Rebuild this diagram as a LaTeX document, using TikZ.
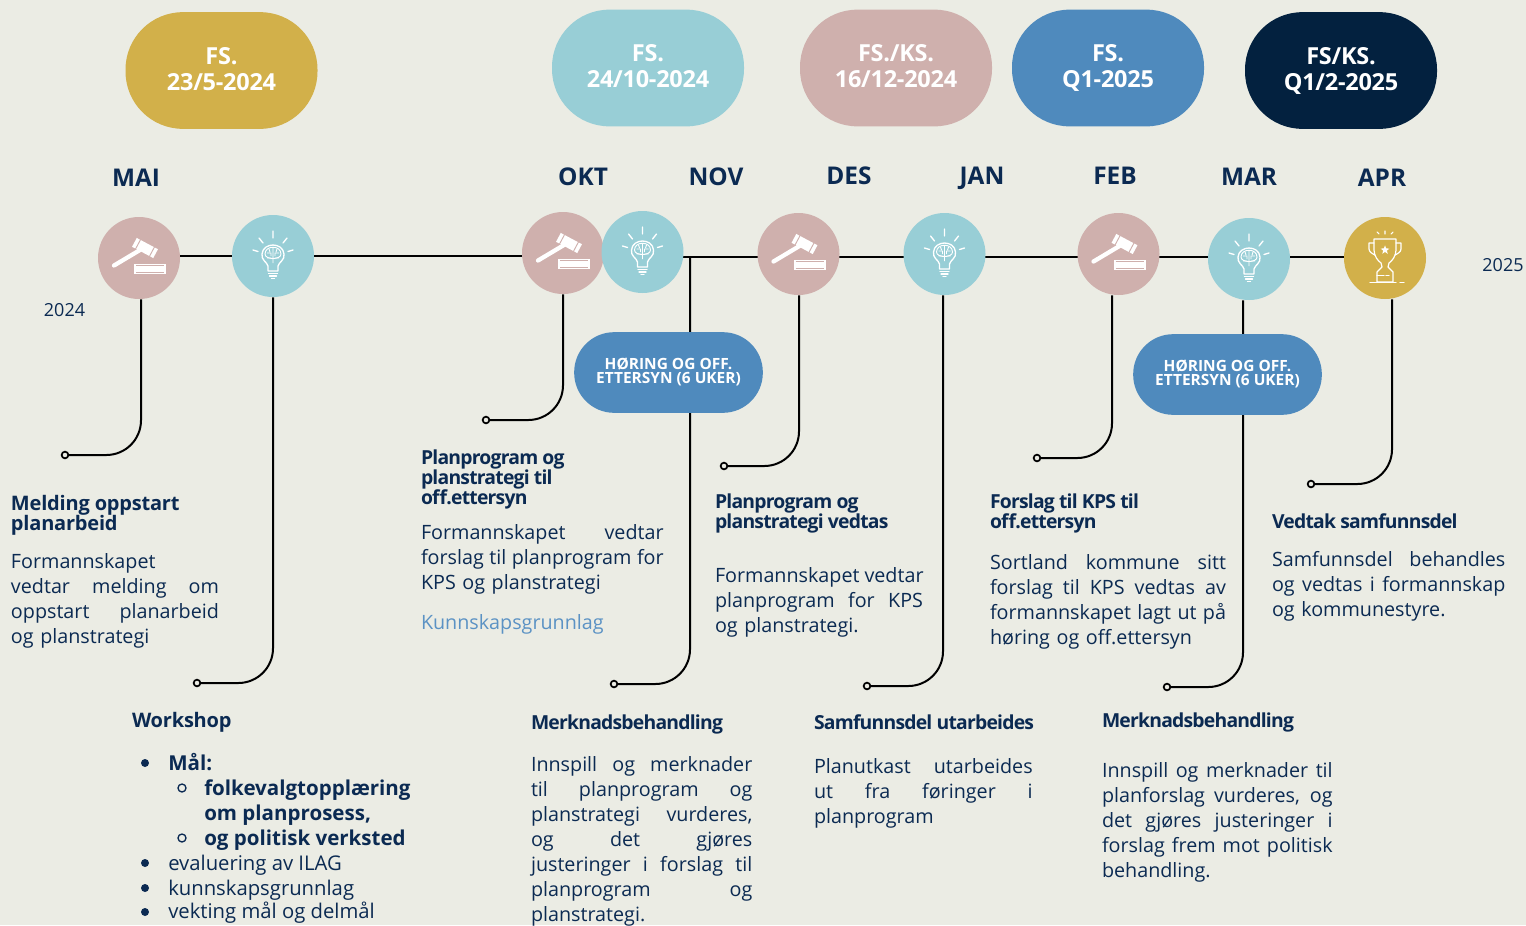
\documentclass[tikz,border=0pt]{standalone}
\usepackage{fontspec}
\setmainfont{Open Sans}
\usetikzlibrary{backgrounds,shapes.geometric,calc}
\definecolor{bgc}{HTML}{EBECE4}
\definecolor{navy}{HTML}{0B2A52}
\definecolor{goldc}{HTML}{D2B04A}
\definecolor{tealc}{HTML}{98CED6}
\definecolor{rosec}{HTML}{CFB0AD}
\definecolor{bluec}{HTML}{4F8ABD}
\definecolor{darkc}{HTML}{03213F}
\definecolor{linkc}{HTML}{5B92C4}
\newcommand\jl[1]{\leavevmode\hbox to\hsize{\spaceskip=.25em plus 1fil\relax #1}}
\tikzset{
 x=0.75pt,y=-0.75pt,
 pill/.style={rounded corners=43pt,minimum width=144pt,minimum height=87.5pt,inner sep=0pt,text=white,align=center,text depth=3pt,
   font=\fontsize{17.6pt}{19.5pt}\selectfont\bfseries\addfontfeature{LetterSpace=-1}},
 hpill/.style={rounded corners=30pt,fill=bluec,minimum width=141.5pt,minimum height=60.5pt,inner sep=0pt,text=white,align=center,text depth=3pt,
   font=\fontsize{11.6pt}{10.5pt}\selectfont\bfseries},
 month/.style={text=navy,font=\fontsize{18.3pt}{22pt}\selectfont\bfseries,inner sep=0pt,text height=13.5pt,text depth=0pt},
 yr/.style={text=navy,font=\fontsize{13.5pt}{16pt}\selectfont,inner sep=0pt},
 disc/.style={circle,minimum size=61.5pt,inner sep=0pt},
 head/.style={text=navy,anchor=north west,inner sep=0pt,align=left,xshift=-.2pt,yshift=-1.5pt,font=\fontsize{14.5pt}{15pt}\selectfont\bfseries\addfontfeature{LetterSpace=-4}},
 widehead/.style={head,font=\fontsize{15pt}{15pt}\selectfont\bfseries\addfontfeature{LetterSpace=-1}},
 body/.style={text=navy,anchor=north west,inner sep=0pt,align=left,xshift=-.2pt,yshift=-3pt,font=\fontsize{14.8pt}{18.75pt}\selectfont},
 item/.style={text=navy,anchor=west,inner sep=0pt,yshift=-1.5pt,text height=11pt,text depth=3pt,font=\fontsize{15.2pt}{18pt}\selectfont},
 bitem/.style={item,font=\fontsize{15.4pt}{18pt}\selectfont\bfseries},
 conn/.style={draw=black,line width=1.5pt,rounded corners=26pt},
 tline/.style={draw=black,line width=1.8pt},
 enddot/.style={circle,draw=black,line width=1.3pt,fill=bgc,minimum size=5pt,inner sep=0pt},
 bul/.style={circle,fill=navy,minimum size=6pt,inner sep=0pt},
 subbul/.style={circle,draw=navy,line width=1pt,minimum size=6pt,inner sep=0pt},
 ico/.style={draw=white,line width=1pt,line cap=round,line join=round},
 gavel/.pic={
   \draw[white,line width=3.2pt,line cap=round] (-25,7.5) -- (1,-8);
   \fill[white,rotate around={-28:(6,-10)}] (-6,-15) rectangle (18,-5);
   \foreach \k in {-7.5,7.5}{\draw[rosec,line width=.7pt,rotate around={-28:(6,-10)}] (6+\k*1.05,-15.5) -- (6+\k*1.05,-4.5);}
   \fill[white] (-5,6) rectangle (27,16);
   \draw[rosec,line width=.6pt] (-3,7.4) -- (25,7.4) (-3,14.6) -- (25,14.6);
 },
 bulb/.pic={
   \draw[ico] (0,-25) -- (0,-18) (-14,-18) -- (-10,-13) (14,-18) -- (10,-13) (-20,-6) -- (-15,-4.5) (20,-6) -- (15,-4.5);
   \draw[ico] (-5,10) .. controls (-6,6) and (-12,4) .. (-11,-2) .. controls (-10,-14) and (10,-14) .. (11,-2) .. controls (12,4) and (6,6) .. (5,10) -- (5,15) -- (-5,15) -- cycle;
   \draw[white,line width=.7pt] (-8,-2) .. controls (-8,-11) and (8,-11) .. (8,-2) .. controls (8,4) and (-8,4) .. (-8,-2);
   \draw[white,line width=.7pt] (0,-8) -- (0,7) (-6,-3) -- (-2,-3) -- (-2,0) (6,-3) -- (2,-3) -- (2,0) (-4,-7) -- (-3,-4) (4,-7) -- (3,-4) (-6,2) -- (-2,2) (6,2) -- (2,2);
   \draw[ico] (-4.5,17.5) -- (4.5,17.5) (-3.5,20) -- (3.5,20) (-1.5,22.5) -- (1.5,22.5);
 },
 trophy/.pic={
   \draw[ico,line width=.8pt] (0,-27) -- (0,-24) (-8,-26) -- (-6,-24) (8,-26) -- (6,-24);
   \draw[ico,line width=.9pt] (-11,-19) -- (11,-19) -- (11,-8) .. controls (11,-2) and (7,3) .. (4,5) -- (3,9) -- (8,14) -- (8,24) -- (-8,24) -- (-8,14) -- (-3,9) -- (-4,5) .. controls (-7,3) and (-11,-2) .. (-11,-8) -- cycle;
   \draw[ico,line width=.9pt] (-11,-15) -- (-16,-15) -- (-16,-9) .. controls (-16,-6) and (-12,-4) .. (-10,-3);
   \draw[ico,line width=.9pt] (11,-15) -- (16,-15) -- (16,-9) .. controls (16,-6) and (12,-4) .. (10,-3);
   \draw[ico,line width=.9pt] (-15,24.3) -- (11,24.3) (15,24.3) -- (19,24.3) (-8,17.5) -- (-1,17.5) (1,17.5) -- (4,17.5);
   \node[star,star points=5,star point ratio=2.4,fill=white,minimum size=7pt,inner sep=0pt] at (0,-8) {};
 },
}
\begin{document}
\begin{tikzpicture}
\useasboundingbox (0,0) rectangle (1526,925);
\begin{scope}[on background layer]
\fill[bgc] (0,0) rectangle (1526,925);
\end{scope}
% pills
\node[pill,fill=goldc] (p1) at (221.5,70.5) {FS.\\23/5-2024};
\node[pill,fill=tealc] (p2) at (648,68) {FS.\\24/10-2024};
\node[pill,fill=rosec] (p3) at (896,68) {FS./KS.\\16/12-2024};
\node[pill,fill=bluec] (p4) at (1108,68) {FS.\\Q1-2025};
\node[pill,fill=darkc] (p5) at (1341,70.5) {FS/KS.\\Q1/2-2025};
% months
\node[month] (m1) at (136,177) {MAI};
\node[month] (m2) at (583,176) {OKT};
\node[month] (m3) at (716,176) {NOV};
\node[month] (m4) at (849,175) {DES};
\node[month] (m5) at (982,175) {JAN};
\node[month] (m6) at (1115,175) {FEB};
\node[month] (m7) at (1249,176) {MAR};
\node[month] (m8) at (1382,177) {APR};
\node[yr] (y1) at (64.5,310) {2024};
\node[yr] (y2) at (1503,265) {2025};
% timeline discs
\node[disc,fill=rosec] (n1) at (139,258) {};
\node[disc,fill=tealc] (n2) at (273,256) {};
\node[disc,fill=rosec] (n3) at (563,253) {};
\node[disc,fill=tealc] (n4) at (642.5,252) {};
\node[disc,fill=rosec] (n5) at (798.5,254) {};
\node[disc,fill=tealc] (n6) at (944.5,254) {};
\node[disc,fill=rosec] (n7) at (1118.5,254) {};
\node[disc,fill=tealc] (n8) at (1249,259) {};
\node[disc,fill=goldc] (n9) at (1385,258) {};
\pic at (n1) {gavel};
\pic at (n2) {bulb};
\pic at (n3) {gavel};
\pic at (n4) {bulb};
\pic at (n5) {gavel};
\pic at (n6) {bulb};
\pic at (n7) {gavel};
\pic at (n8) {bulb};
\pic at (n9) {trophy};
% hearing pills
\node[hpill] (h1) at (668.5,372.5) {HØRING OG OFF.\\ETTERSYN (6 UKER)};
\node[hpill] (h2) at (1227.5,374.5) {HØRING OG OFF.\\ETTERSYN (6 UKER)};
% connector ends
\coordinate (t1) at (0,256);
\coordinate (t2) at (0,257);
\coordinate (c1) at (141,455);
\coordinate (c2) at (273,683);
\coordinate (c3) at (563,420);
\coordinate (c4) at (690,684);
\coordinate (c5) at (799,466);
\coordinate (c6) at (943,686);
\coordinate (c7) at (1112,458);
\coordinate (c8) at (1243,687);
\coordinate (c9) at (1392,484);
\node[enddot] (d1) at (65,455) {};
\node[enddot] (d2) at (197,683) {};
\node[enddot] (d3) at (486,420) {};
\node[enddot] (d4) at (614,684) {};
\node[enddot] (d5) at (724,466) {};
\node[enddot] (d6) at (867,686) {};
\node[enddot] (d7) at (1037,458) {};
\node[enddot] (d8) at (1167,687) {};
\node[enddot] (d9) at (1311,484) {};
\begin{scope}[on background layer]
\draw[tline] (n1 |- t1) -- (n2 |- t1);
\draw[tline] (n2 |- t1) -- (n3 |- t1);
\draw[tline] (n4 |- t2) -- (n5 |- t2);
\draw[tline] (n5 |- t2) -- (n6 |- t2);
\draw[tline] (n6 |- t2) -- (n7 |- t2);
\draw[tline] (n7 |- t2) -- (n8 |- t2);
\draw[tline] (n8 |- t2) -- (n9 |- t2);
\draw[conn] (c1 |- n1.south) -- (c1) -- (d1);
\draw[conn] (c2 |- n2.south) -- (c2) -- (d2);
\draw[conn] (c3 |- n3.south) -- (c3) -- (d3);
\draw[conn] (c4 |- t2) -- (c4) -- (d4);
\draw[conn] (c5 |- n5.south) -- (c5) -- (d5);
\draw[conn] (c6 |- n6.south) -- (c6) -- (d6);
\draw[conn] (c7 |- n7.south) -- (c7) -- (d7);
\draw[conn] (c8 |- n8.south) -- (c8) -- (d8);
\draw[conn] (c9 |- n9.south) -- (c9) -- (d9);
\end{scope}
% text blocks
\node[widehead] (a1) at (11,493) {Melding oppstart\\planarbeid};
\node[body,text width=156pt] (b1) at (11,549) {Formannskapet\\\jl{vedtar melding om}\\\jl{oppstart planarbeid}\\og planstrategi};
\node[head] (a2) at (421,448) {Planprogram og\\planstrategi til\\off.ettersyn};
\node[body,text width=182pt] (b2) at (421,520) {\jl{Formannskapet vedtar}\\\jl{forslag til planprogram for}\\KPS og planstrategi};
\node[body,text=linkc] (b2b) at (421,610) {Kunnskapsgrunnlag};
\node[head] (a3) at (715,492) {Planprogram og\\planstrategi vedtas};
\node[body,text width=156pt] (b3) at (715,563) {\jl{Formannskapet vedtar}\\\jl{planprogram for KPS}\\og planstrategi.};
\node[head] (a4) at (990,492) {Forslag til KPS til\\off.ettersyn};
\node[body,text width=177pt] (b4) at (990,550) {\jl{Sortland kommune sitt}\\\jl{forslag til KPS vedtas av}\\\jl{formannskapet lagt ut på}\\høring og off.ettersyn};
\node[head] (a5) at (1272,511) {Vedtak samfunnsdel};
\node[body,text width=175pt] (b5) at (1272,547) {\jl{Samfunnsdel behandles}\\\jl{og vedtas i formannskap}\\og kommunestyre.};
\node[head] (a6) at (531,713) {Merknadsbehandling};
\node[body,text width=166pt] (b6) at (531,752.5) {\jl{Innspill og merknader}\\\jl{til planprogram og}\\\jl{planstrategi vurderes,}\\\jl{og det gjøres}\\\jl{justeringer i forslag til}\\\jl{planprogram og}\\planstrategi.};
\node[head] (a7) at (814,712) {Samfunnsdel utarbeides};
\node[body,text width=164pt] (b7) at (814,754) {\jl{Planutkast utarbeides}\\\jl{ut fra føringer i}\\planprogram};
\node[head] (a8) at (1102,711) {Merknadsbehandling};
\node[body,text width=173pt] (b8) at (1102,758) {\jl{Innspill og merknader til}\\\jl{planforslag vurderes, og}\\\jl{det gjøres justeringer i}\\\jl{forslag frem mot politisk}\\behandling.};
% workshop
\node[widehead] (a9) at (132,710) {Workshop};
\node[bul] (w1) at (145,763) {};
\node[bitem] (t1a) at (168,763) {Mål:};
\node[subbul] (w2) at (182,788) {};
\node[bitem] (t2a) at (204,788) {folkevalgtopplæring};
\node[bitem] (t3a) at (204,813) {om planprosess,};
\node[subbul] (w4) at (182,838) {};
\node[bitem] (t4a) at (204,838) {og politisk verksted};
\node[bul] (w5) at (145,863) {};
\node[item] (t5a) at (168,863) {evaluering av ILAG};
\node[bul] (w6) at (145,888) {};
\node[item] (t6a) at (168,888) {kunnskapsgrunnlag};
\node[bul] (w7) at (145,912) {};
\node[item] (t7a) at (168,911) {vekting mål og delmål};
\end{tikzpicture}
\end{document}
